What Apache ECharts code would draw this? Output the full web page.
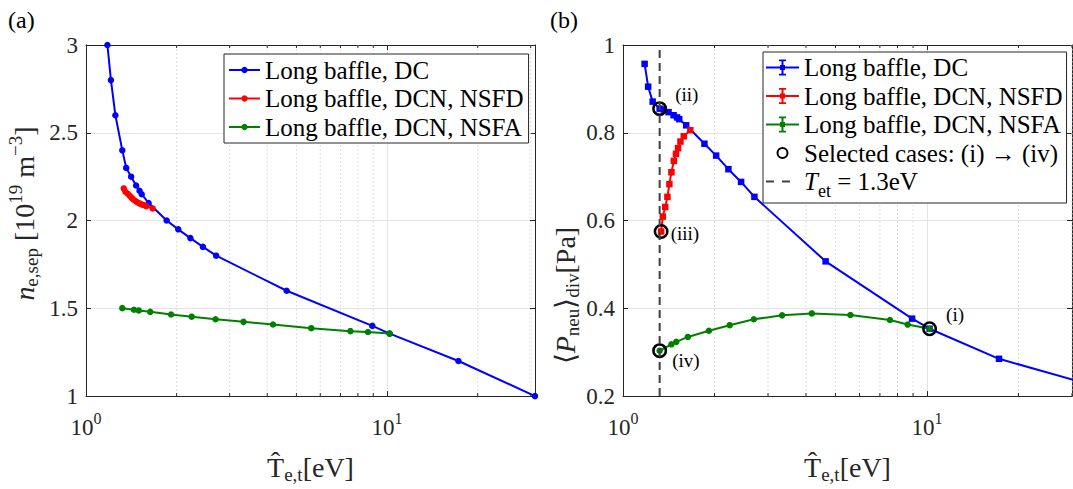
<!DOCTYPE html>
<html><head><meta charset="utf-8">
<script src="https://cdn.jsdelivr.net/npm/echarts@6/dist/echarts.min.js"></script>
<style>html,body{margin:0;padding:0;background:#fff}#c{width:1073px;height:489px}</style>
</head><body><div id="c"></div>
<script>
// ---------------- data ----------------
const T_DC   = [1.178, 1.21, 1.252, 1.32, 1.36, 1.412, 1.467, 1.506, 1.531, 1.614, 1.853, 2.025, 2.222, 2.446, 2.706, 4.64, 8.935, 10.2, 17.26, 31];
const n_DC   = [3.0, 2.8, 2.6, 2.4, 2.3, 2.25, 2.2, 2.17, 2.15, 2.1, 2.0, 1.95, 1.9, 1.85, 1.8, 1.6, 1.4, 1.356, 1.2, 1.0];
const P_DC   = [0.957, 0.905, 0.871, 0.855, 0.853, 0.847, 0.840, 0.835, 0.831, 0.817, 0.775, 0.748, 0.717, 0.688, 0.654, 0.507, 0.3765, 0.3535, 0.285, 0.235];

const T_NSFD = [1.335, 1.352, 1.377, 1.40, 1.421, 1.443, 1.47, 1.494, 1.517, 1.545, 1.585, 1.665];
const n_NSFD = [2.183, 2.164, 2.153, 2.14, 2.128, 2.117, 2.108, 2.1, 2.095, 2.089, 2.082, 2.069];
const P_NSFD = [0.575, 0.609, 0.631, 0.654, 0.683, 0.71, 0.736, 0.752, 0.765, 0.78, 0.792, 0.806];

const T_NSFA = [1.32, 1.443, 1.497, 1.634, 1.917, 2.244, 2.694, 3.337, 4.18, 5.6, 7.555, 8.64, 10.2];
const n_NSFA = [1.501, 1.492, 1.488, 1.480, 1.465, 1.4525, 1.4375, 1.423, 1.408, 1.387, 1.37, 1.365, 1.356];
const P_NSFA = [0.3035, 0.318, 0.3236, 0.3348, 0.349, 0.3616, 0.375, 0.384, 0.3884, 0.3848, 0.3733, 0.363, 0.3535];

const SEL_T      = [10.2, 1.32, 1.335, 1.32];
const SEL_P      = [0.3535, 0.855, 0.575, 0.3035];
const SEL_LABELS = ['(i)', '(ii)', '(iii)', '(iv)'];

const T_ET = 1.32;
const X_MINOR_TICKS = [2, 3, 4, 5, 6, 7, 8, 9, 20, 30];
const Y_RANGE_A = [1, 3, 0.5];
const Y_RANGE_B = [0.2, 1, 0.2];
const X_MAX_A = 31, X_MAX_B = 30;

const NAME_DC = 'Long baffle, DC', NAME_FD = 'Long baffle, DCN, NSFD', NAME_FA = 'Long baffle, DCN, NSFA';
const NAME_SEL = 'Selected cases: (i) \u2192 (iv)', NAME_ET = 'T_et = 1.3eV';

// ---------------- styling ----------------
const F = 'Liberation Serif';
const TXT = '#262626';
const AX = {color: '#262626', width: 1};
const zip = (a, b) => a.map((v, i) => [v, b[i]]);

const RICH = {
  r:   {fontFamily: F, fontSize: 28, color: TXT, lineHeight: 28, verticalAlign: 'top', padding: [9, 0, 0, 0]},
  i:   {fontFamily: F, fontSize: 28, color: TXT, lineHeight: 28, verticalAlign: 'top', padding: [9, 0, 0, 0], fontStyle: 'italic'},
  sub: {fontFamily: F, fontSize: 19, color: TXT, lineHeight: 19, verticalAlign: 'top', padding: [21, 0, 0, 0]},
  sup: {fontFamily: F, fontSize: 19, color: TXT, lineHeight: 19, verticalAlign: 'top', padding: [5, 0, 0, 0]}
};
const TICK_RICH = {
  b: {fontFamily: F, fontSize: 23, color: TXT, lineHeight: 24, verticalAlign: 'top', padding: [8, 0, 0, 0]},
  s: {fontFamily: F, fontSize: 16, color: TXT, lineHeight: 16, verticalAlign: 'top', padding: [2, 0, 0, 0]},
  t: {fontFamily: F, fontSize: 23, color: TXT, lineHeight: 24}
};
const LEG_RICH = {
  n:   {fontFamily: F, fontSize: 25, color: '#000', lineHeight: 25, verticalAlign: 'top'},
  i:   {fontFamily: F, fontSize: 25, color: '#000', fontStyle: 'italic', lineHeight: 25, verticalAlign: 'top'},
  sub: {fontFamily: F, fontSize: 18, color: '#000', lineHeight: 12, verticalAlign: 'top', padding: [13, 0, 0, 0]}
};

function logX(grid, max, pos, main) {
  return {
    type: 'log', logBase: 10, gridIndex: grid, position: pos, min: 1, max: max,
    axisLine: {show: true, onZero: false, lineStyle: AX},
    axisTick: {show: true, inside: true, length: 5, lineStyle: AX},
    splitLine: {show: main, lineStyle: {color: '#e4e4e4', width: 1}},
    axisLabel: main ? {
      show: true, margin: 12, showMaxLabel: false, fontFamily: F,
      formatter: v => {
        const e = Math.log10(v);
        if (Math.abs(e - Math.round(e)) > 1e-6) return '';
        return '{b|10}{s|' + Math.round(e) + '}';
      },
      rich: TICK_RICH
    } : {show: false},
    name: main ? '{r|T\u0302}{sub|e,t}{r|[eV]}' : '',
    nameLocation: 'middle', nameGap: 40,
    nameTextStyle: {rich: RICH, fontFamily: F}
  };
}
function linY(grid, rng, pos, main, name, gap, namePad, moveOverlap) {
  return {
    type: 'value', gridIndex: grid, position: pos, min: rng[0], max: rng[1], interval: rng[2],
    axisLine: {show: true, onZero: false, lineStyle: AX},
    axisTick: {show: true, inside: true, length: 5, lineStyle: AX},
    splitLine: {show: main, lineStyle: {color: '#e4e4e4', width: 1}},
    axisLabel: main ? {show: true, margin: 8, fontFamily: F, fontSize: 23, color: TXT,
      formatter: v => '{t|' + String(Math.round(v * 10) / 10) + '}', rich: TICK_RICH} : {show: false},
    name: main ? name : '', nameLocation: 'middle', nameRotate: 90, nameGap: gap,
    nameMoveOverlap: moveOverlap !== false,
    nameTextStyle: {rich: RICH, fontFamily: F, padding: namePad || 0}
  };
}

function minorRender(params, api) {
  const cs = params.coordSys;
  const x = api.coord([api.value(0), api.value(1)])[0];
  if (x < cs.x - 0.5 || x > cs.x + cs.width + 0.5) return null;
  const top = cs.y, bot = cs.y + cs.height;
  return {type: 'group', children: [
    {type: 'line', shape: {x1: x, y1: top, x2: x, y2: bot}, style: {stroke: '#d6d6d6', lineWidth: 1, lineDash: [1.5, 2.5]}},
    {type: 'line', shape: {x1: x, y1: bot, x2: x, y2: bot - 3}, style: {stroke: '#262626', lineWidth: 1}},
    {type: 'line', shape: {x1: x, y1: top, x2: x, y2: top + 3}, style: {stroke: '#262626', lineWidth: 1}}
  ]};
}

function lineSeries(name, xi, yi, data, color, symbol) {
  return {
    name, type: 'line', xAxisIndex: xi, yAxisIndex: yi, data,
    color, symbol, symbolSize: 6.5, showAllSymbol: true,
    lineStyle: {color, width: 2}, itemStyle: {color}, z: 3, animation: false
  };
}

const ANCHORS = 'M0,0L0.01,0L0.01,0.01Z M33,16L32.99,16L32.99,15.99Z ';
const EB_ICON = 'path://M0,7L33,7L33,9L0,9Z M15.5,1L17.5,1L17.5,15L15.5,15Z M13,0L20,0L20,1.8L13,1.8Z M13,14.2L20,14.2L20,16L13,16Z M14,5.5L19,5.5L19,10.5L14,10.5Z';
const RING_ICON = 'path://' + ANCHORS + 'M16.5,2A6,6 0 1,1 16.5,14A6,6 0 1,1 16.5,2Z M16.5,4A4,4 0 1,0 16.5,12A4,4 0 1,0 16.5,4Z';
const DASH_ICON = 'path://' + ANCHORS + 'M0,7L8,7L8,9L0,9Z M16,7L24,7L24,9L16,9Z';
const RING_SYMBOL = 'path://M7,0A7,7 0 1,1 7,14A7,7 0 1,1 7,0Z M7,2.4A4.6,4.6 0 1,0 7,11.6A4.6,4.6 0 1,0 7,2.4Z';

const SEL_LABEL_POS = [[24, -7], [23, -7], [17, 9], [20, 17]];
const legendFormatter = name => name === NAME_ET ? '{i|T}{sub|et}{n| = 1.3eV}' : '{n|' + name + '}';
const TITLE_STYLE = {fontFamily: F, fontWeight: 'normal', rich: {r: {fontFamily: F, fontSize: 24, fontWeight: 'normal', color: '#000'}}};

const option = {
  backgroundColor: '#fff',
  animation: false,
  textStyle: {fontFamily: F},
  title: [
    {text: '{r|(a)}', left: 3, top: 3, textStyle: TITLE_STYLE},
    {text: '{r|(b)}', left: 545, top: 3, textStyle: TITLE_STYLE}
  ],
  grid: [
    {left: 85, top: 45, width: 450, height: 358},
    {left: 623, top: 45, width: 449, height: 358}
  ],
  xAxis: [
    logX(0, X_MAX_A, 'bottom', true), logX(0, X_MAX_A, 'top', false),
    logX(1, X_MAX_B, 'bottom', true), logX(1, X_MAX_B, 'top', false)
  ],
  yAxis: [
    linY(0, Y_RANGE_A, 'left', true, '{i|n}{sub|e,sep}{r| [10}{sup|19}{r| m}{sup|\u22123}{r|]}', 57, [0, 0, 0, 14], false),
    linY(0, Y_RANGE_A, 'right', false),
    linY(1, Y_RANGE_B, 'left', true, '{r|\u27E8}{i|P}{sub|neu}{r|\u27E9}{sub|div}{r|[Pa]}', 20, [0, 150, 0, 0]),
    linY(1, Y_RANGE_B, 'right', false)
  ],
  legend: [
    {
      orient: 'vertical', left: 224, top: 54, itemWidth: 31, itemHeight: 8, itemGap: 3.5,
      padding: [3.5, 5, 3.5, 4], borderColor: '#262626', borderWidth: 1, backgroundColor: '#fff',
      textStyle: {fontFamily: F, fontSize: 25, color: '#000', rich: LEG_RICH},
      formatter: legendFormatter,
      data: [NAME_DC, NAME_FD, NAME_FA], selectedMode: false
    },
    {
      orient: 'vertical', left: 763, top: 52, itemWidth: 33, itemHeight: 16, itemGap: 3.5,
      padding: [3, 4, 3, 3], borderColor: '#262626', borderWidth: 1, backgroundColor: '#fff',
      textStyle: {fontFamily: F, fontSize: 25, color: '#000', rich: LEG_RICH},
      formatter: legendFormatter,
      selectedMode: false,
      data: [
        {name: NAME_DC, icon: EB_ICON},
        {name: NAME_FD, icon: EB_ICON},
        {name: NAME_FA, icon: EB_ICON},
        {name: NAME_SEL, icon: RING_ICON},
        {name: NAME_ET, icon: DASH_ICON}
      ]
    }
  ],
  series: [
    lineSeries(NAME_DC, 0, 0, zip(T_DC, n_DC), '#0000ff', 'circle'),
    lineSeries(NAME_FD, 0, 0, zip(T_NSFD, n_NSFD), '#ff0000', 'circle'),
    lineSeries(NAME_FA, 0, 0, zip(T_NSFA, n_NSFA), '#008000', 'circle'),
    lineSeries(NAME_DC, 2, 2, zip(T_DC, P_DC), '#0000ff', 'rect'),
    lineSeries(NAME_FD, 2, 2, zip(T_NSFD, P_NSFD), '#ff0000', 'rect'),
    lineSeries(NAME_FA, 2, 2, zip(T_NSFA, P_NSFA), '#008000', 'circle'),
    {
      name: NAME_SEL, type: 'scatter', xAxisIndex: 2, yAxisIndex: 2,
      symbol: RING_SYMBOL, symbolSize: 15, color: '#000', itemStyle: {color: '#000', opacity: 1}, z: 5,
      data: SEL_T.map((t, i) => ({
        value: [t, SEL_P[i]],
        label: {show: true, formatter: '{l|' + SEL_LABELS[i] + '}', position: SEL_LABEL_POS[i], align: 'left', verticalAlign: 'middle',
                fontFamily: F, fontSize: 19, color: '#000', rich: {l: {fontFamily: F, fontSize: 19, color: '#000'}}}
      }))
    },
    {
      name: NAME_ET, type: 'line', xAxisIndex: 2, yAxisIndex: 2, symbol: 'none', color: '#404040',
      data: [[T_ET, Y_RANGE_B[0]], [T_ET, Y_RANGE_B[1]]],
      lineStyle: {color: '#404040', width: 2, type: [8, 5]}, itemStyle: {color: '#404040'}, z: 6
    },
    {type: 'custom', xAxisIndex: 0, yAxisIndex: 0, renderItem: minorRender, silent: true, z: 1,
     data: X_MINOR_TICKS.map(v => [v, Y_RANGE_A[0]]), clip: false},
    {type: 'custom', xAxisIndex: 2, yAxisIndex: 2, renderItem: minorRender, silent: true, z: 1,
     data: X_MINOR_TICKS.map(v => [v, Y_RANGE_B[0]]), clip: false}
  ]
};

const chart = echarts.init(document.getElementById('c'), null, {renderer: 'svg', width: 1073, height: 489});
chart.setOption(option);
</script>
</body></html>
